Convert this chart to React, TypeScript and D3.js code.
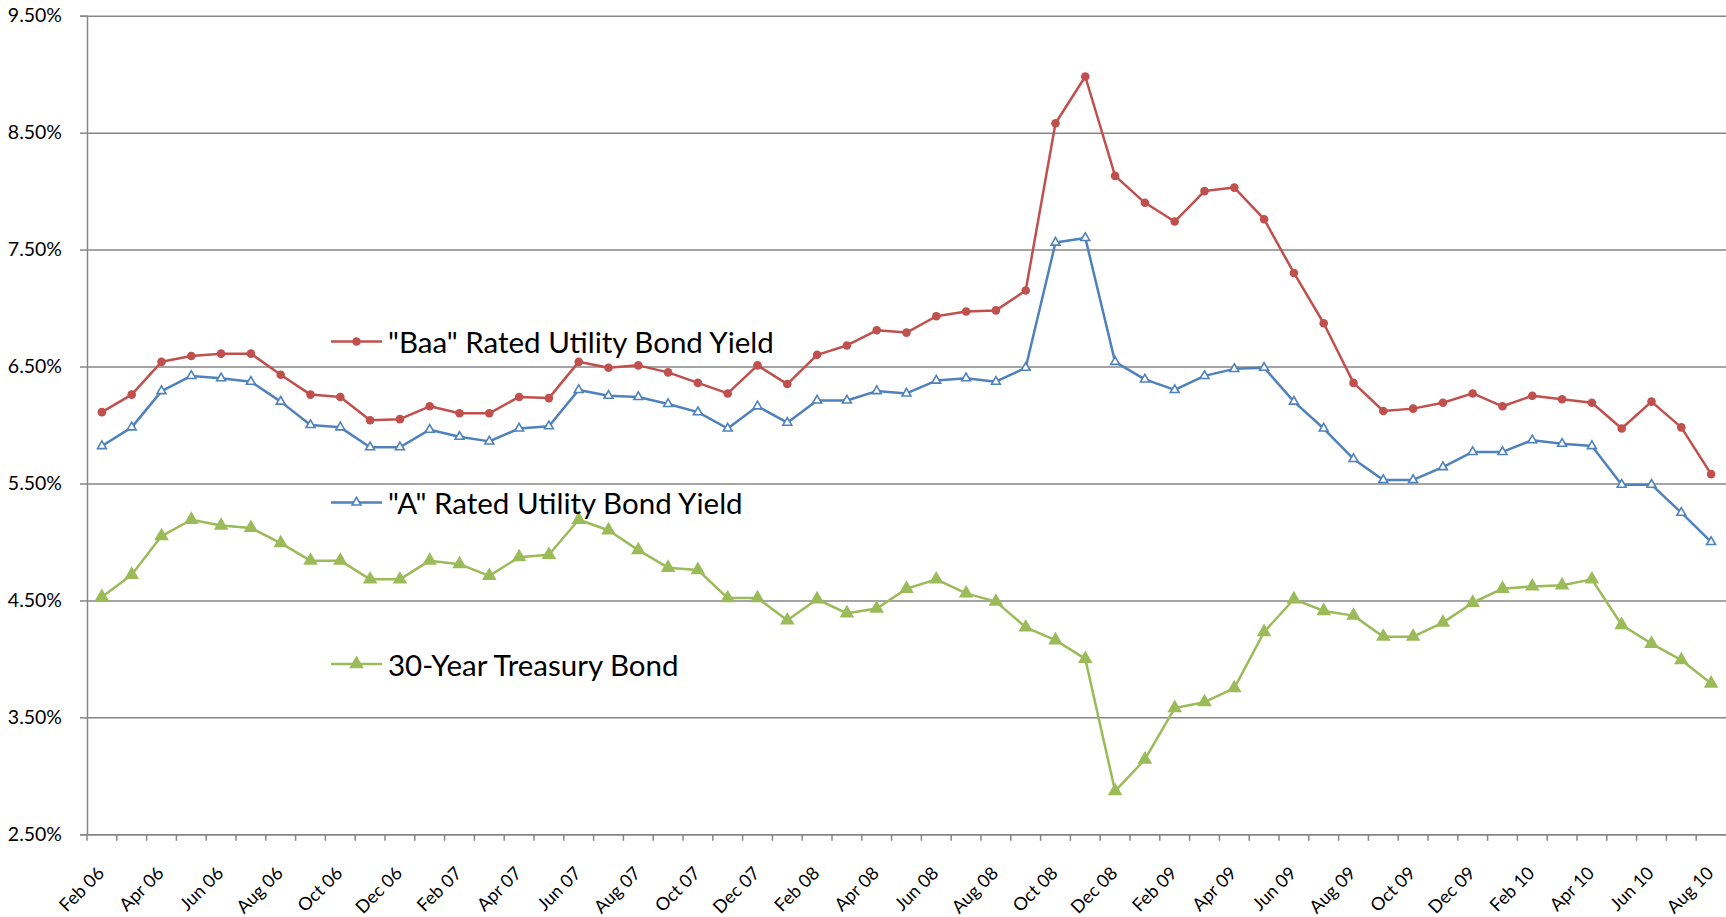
import { useEffect, useRef } from 'react';
import * as d3 from 'd3';

const months = [
  'Feb 06', 'Mar 06', 'Apr 06', 'May 06', 'Jun 06', 'Jul 06', 'Aug 06', 'Sep 06', 'Oct 06', 'Nov 06', 'Dec 06',
  'Jan 07', 'Feb 07', 'Mar 07', 'Apr 07', 'May 07', 'Jun 07', 'Jul 07', 'Aug 07', 'Sep 07', 'Oct 07', 'Nov 07', 'Dec 07',
  'Jan 08', 'Feb 08', 'Mar 08', 'Apr 08', 'May 08', 'Jun 08', 'Jul 08', 'Aug 08', 'Sep 08', 'Oct 08', 'Nov 08', 'Dec 08',
  'Jan 09', 'Feb 09', 'Mar 09', 'Apr 09', 'May 09', 'Jun 09', 'Jul 09', 'Aug 09', 'Sep 09', 'Oct 09', 'Nov 09', 'Dec 09',
  'Jan 10', 'Feb 10', 'Mar 10', 'Apr 10', 'May 10', 'Jun 10', 'Jul 10', 'Aug 10',
];

const baaYield = [
  6.11, 6.26, 6.54, 6.59, 6.61, 6.61, 6.43, 6.26, 6.24, 6.04, 6.05,
  6.16, 6.10, 6.10, 6.24, 6.23, 6.54, 6.49, 6.51, 6.45, 6.36, 6.27, 6.51,
  6.35, 6.60, 6.68, 6.81, 6.79, 6.93, 6.97, 6.98, 7.15, 8.58, 8.98, 8.13,
  7.90, 7.74, 8.00, 8.03, 7.76, 7.30, 6.87, 6.36, 6.12, 6.14, 6.19, 6.27,
  6.16, 6.25, 6.22, 6.19, 5.97, 6.20, 5.98, 5.58,
];

const aYield = [
  5.82, 5.98, 6.29, 6.42, 6.40, 6.37, 6.20, 6.00, 5.98, 5.81, 5.81,
  5.96, 5.90, 5.86, 5.97, 5.99, 6.30, 6.25, 6.24, 6.18, 6.11, 5.97, 6.16,
  6.02, 6.21, 6.21, 6.29, 6.27, 6.38, 6.40, 6.37, 6.49, 7.56, 7.60, 6.54,
  6.39, 6.30, 6.42, 6.48, 6.49, 6.20, 5.97, 5.71, 5.53, 5.53, 5.64, 5.77,
  5.77, 5.87, 5.84, 5.82, 5.49, 5.49, 5.25, 5.00,
];

const treasuryYield = [
  4.53, 4.72, 5.05, 5.19, 5.14, 5.12, 4.99, 4.84, 4.84, 4.68, 4.68,
  4.84, 4.81, 4.71, 4.87, 4.89, 5.19, 5.10, 4.93, 4.78, 4.76, 4.52, 4.52,
  4.33, 4.51, 4.39, 4.43, 4.60, 4.68, 4.56, 4.49, 4.27, 4.16, 4.00, 2.87,
  3.14, 3.58, 3.63, 3.75, 4.23, 4.51, 4.41, 4.37, 4.19, 4.19, 4.31, 4.48,
  4.60, 4.62, 4.63, 4.68, 4.29, 4.13, 3.99, 3.79,
];

const yTicks = [2.5, 3.5, 4.5, 5.5, 6.5, 7.5, 8.5, 9.5];

const seriesNames = ['"Baa" Rated Utility Bond Yield', '"A" Rated Utility Bond Yield', '30-Year Treasury Bond'];

const colours = {
  baa: '#C0504D',
  a: '#4F81BD',
  treasury: '#9BBB59',
  grid: '#868686',
  text: '#000000',
};

const fontFamily = 'Lato, "Open Sans", sans-serif';

const App = () => {
  const svgRef = useRef(null);

  useEffect(() => {
    const width = 1726;
    const height = 917;

    const svgElement = d3.select(svgRef.current);
    svgElement.selectAll('*').remove();

    const svg = svgElement
      .append('svg')
      .attr('width', width)
      .attr('height', height)
      .style('display', 'block')
      .style('background', '#ffffff');

    const plot = { left: 87, right: 1726, top: 15.7, bottom: 834.3 };

    const xScale = d3.scaleBand().domain(months).range([plot.left, plot.right]).padding(0);
    const yScale = d3.scaleLinear().domain([2.5, 9.5]).range([plot.bottom, plot.top]);
    const xCenter = (m) => xScale(m) + xScale.bandwidth() / 2;

    // gridlines + y axis
    const yAxis = d3
      .axisLeft(yScale)
      .tickValues(yTicks)
      .tickSize(7)
      .tickPadding(18)
      .tickFormat((d) => d3.format('.2f')(d) + '%');

    svg
      .append('g')
      .attr('transform', `translate(${plot.left},0)`)
      .call(yAxis)
      .call((g) => g.select('.domain').attr('stroke', colours.grid).attr('stroke-width', 1.5))
      .call((g) => g.selectAll('.tick line').attr('stroke', colours.grid).attr('stroke-width', 1.5))
      .call((g) =>
        g
          .selectAll('.tick line')
          .clone()
          .attr('x1', 0)
          .attr('x2', plot.right - plot.left)
      )
      .call((g) =>
        g
          .selectAll('.tick text')
          .style('font-family', fontFamily)
          .style('font-size', '19.5px')
          .attr('fill', colours.text)
      );

    // x axis
    const xAxis = d3
      .axisBottom(xScale)
      .tickSize(0)
      .tickFormat(() => '');

    const xAxisG = svg
      .append('g')
      .attr('transform', `translate(0,${plot.bottom})`)
      .call(xAxis)
      .call((g) => g.select('.domain').attr('stroke', colours.grid).attr('stroke-width', 1.5));

    // tick marks sit between the categories
    xAxisG
      .selectAll('.cat-tick')
      .data(months)
      .enter()
      .append('line')
      .attr('x1', (m) => xScale(m))
      .attr('x2', (m) => xScale(m))
      .attr('y1', 0)
      .attr('y2', 6.5)
      .attr('stroke', colours.grid)
      .attr('stroke-width', 1.5);

    xAxisG
      .selectAll('.cat-label')
      .data(months.filter((m, i) => i % 2 === 0))
      .enter()
      .append('text')
      .attr('text-anchor', 'end')
      .attr('dominant-baseline', 'central')
      .attr('transform', (m) => `translate(${xCenter(m) - 1.5},${35}) rotate(-45)`)
      .style('font-family', fontFamily)
      .style('font-size', '18px')
      .attr('fill', colours.text)
      .text((m) => m);

    const lineGenerator = d3
      .line()
      .x((d, i) => xCenter(months[i]))
      .y((d) => yScale(d));

    const series = [
      { name: seriesNames[0], values: baaYield, colour: colours.baa, marker: 'circle' },
      { name: seriesNames[1], values: aYield, colour: colours.a, marker: 'openTriangle' },
      { name: seriesNames[2], values: treasuryYield, colour: colours.treasury, marker: 'triangle' },
    ];

    const drawMarker = (g, s, x, y) => {
      if (s.marker === 'circle') {
        g.append('circle').attr('cx', x).attr('cy', y).attr('r', 4.3).attr('fill', s.colour);
      } else if (s.marker === 'openTriangle') {
        g.append('path')
          .attr('d', d3.symbol(d3.symbolTriangle, 34)())
          .attr('transform', `translate(${x},${y})`)
          .attr('fill', '#ffffff')
          .attr('stroke', s.colour)
          .attr('stroke-width', 1.6);
      } else {
        g.append('path')
          .attr('d', d3.symbol(d3.symbolTriangle, 92)())
          .attr('transform', `translate(${x},${y})`)
          .attr('fill', s.colour);
      }
    };

    for (const s of series) {
      const g = svg.append('g');
      g.append('path')
        .attr('fill', 'none')
        .attr('stroke', s.colour)
        .attr('stroke-width', 2.5)
        .attr('stroke-linejoin', 'round')
        .attr('d', lineGenerator(s.values));

      s.values.forEach((v, i) => {
        drawMarker(g, s, xCenter(months[i]), yScale(v));
      });
    }

    // inline legend
    const legendRows = [
      { s: series[0], y: 341.5 },
      { s: series[1], y: 502.5 },
      { s: series[2], y: 664 },
    ];

    for (const row of legendRows) {
      const lg = svg.append('g');
      lg.append('line')
        .attr('x1', 331)
        .attr('x2', 382)
        .attr('y1', row.y)
        .attr('y2', row.y)
        .attr('stroke', row.s.colour)
        .attr('stroke-width', 2.5);
      drawMarker(lg, row.s, 356.5, row.y);
      lg.append('text')
        .attr('x', 388)
        .attr('y', row.y)
        .attr('dominant-baseline', 'central')
        .style('font-family', fontFamily)
        .style('font-size', '29.5px')
        .attr('fill', colours.text)
        .text(row.s.name);
    }
  }, []);

  return (
    <div style={{ position: 'absolute', left: 0, top: 0 }}>
      <div ref={svgRef}></div>
    </div>
  );
};

export default App;
